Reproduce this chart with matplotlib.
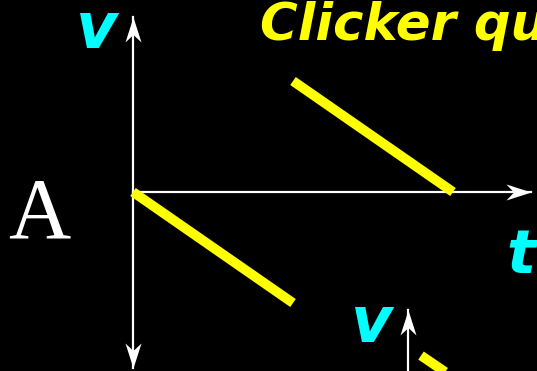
"""v-t graph sketch: clicker question, panel A"""
import matplotlib
matplotlib.use('Agg')
import matplotlib.pyplot as plt
import numpy as np
from matplotlib.path import Path
from matplotlib.markers import MarkerStyle
from matplotlib.transforms import Affine2D

W, H = 537, 371
YELLOW = '#ffff00'
CYAN = '#00ffff'

# ── data (t, v) ─────────────────────────────────────
seg1_t = [0, 4]
seg1_v = [0, -3]
seg2_t = [4, 8]
seg2_v = [3, 0]

# next panel peeking in at the bottom
seg3_t = [7.2, 8.6]
seg3_v = [-4.42, -5.45]

# axis extents
t_axis = [0, 9.95]
v_axis = [-4.76, 4.73]
t2_axis = 6.88
v2_axis = [-3.2, -5.2]

# pixel scale: origin at (133, 192), 40 px per t, 37 px per v
X0, Y0, SX, SY = 133, 192, 40.0, 37.0

fig = plt.figure(figsize=(W/100, H/100), dpi=100, facecolor='black')
ax = fig.add_axes([0, 0, 1, 1])
ax.set_facecolor('black')
ax.set_xlim(-X0/SX, (W-X0)/SX)
ax.set_ylim(-(H-Y0)/SY, Y0/SY)
ax.set_axis_off()

# stealth arrow head, tip at origin pointing up
head = Path([(0, 0), (-0.32, -1.0), (0, -0.7), (0.32, -1.0), (0, 0)],
            [Path.MOVETO, Path.LINETO, Path.LINETO, Path.LINETO, Path.CLOSEPOLY])


def arrow_head(x, y, angle):
    m = MarkerStyle(head, transform=Affine2D().rotate_deg(angle))
    ax.plot(x, y, marker=m, ms=36, color='white', mec='white', mew=0, zorder=4)


# axes
ax.plot([0, 0], v_axis, color='white', lw=1.6, zorder=3)
ax.plot(t_axis, [0, 0], color='white', lw=1.6, zorder=3)
arrow_head(0, v_axis[1], 0)
arrow_head(0, v_axis[0], 180)
arrow_head(t_axis[1], 0, -90)

ax.plot([t2_axis, t2_axis], v2_axis, color='white', lw=1.6, zorder=3)
arrow_head(t2_axis, v2_axis[0], 0)

# graph lines
for t, v in [(seg1_t, seg1_v), (seg2_t, seg2_v), (seg3_t, seg3_v)]:
    ax.plot(t, v, color=YELLOW, lw=7, solid_capstyle='butt', zorder=5)


def px_text(x, y, s, **kw):
    fig.text(x/W, 1 - y/H, s, va='baseline', ha='left', **kw)


bi = dict(family='DejaVu Sans', weight='bold', style='italic')
px_text(76, 48, 'v', color=CYAN, fontsize=46, **bi)
px_text(260, 40, 'Clicker question', color=YELLOW, fontsize=37, **bi)
px_text(8, 237, 'A', color='white', fontsize=62, family='Liberation Serif')
px_text(506, 273, 't', color=CYAN, fontsize=44, **bi)
px_text(351, 342, 'v', color=CYAN, fontsize=46, **bi)

plt.savefig('out.png', dpi=100, facecolor='black')
plt.close()
